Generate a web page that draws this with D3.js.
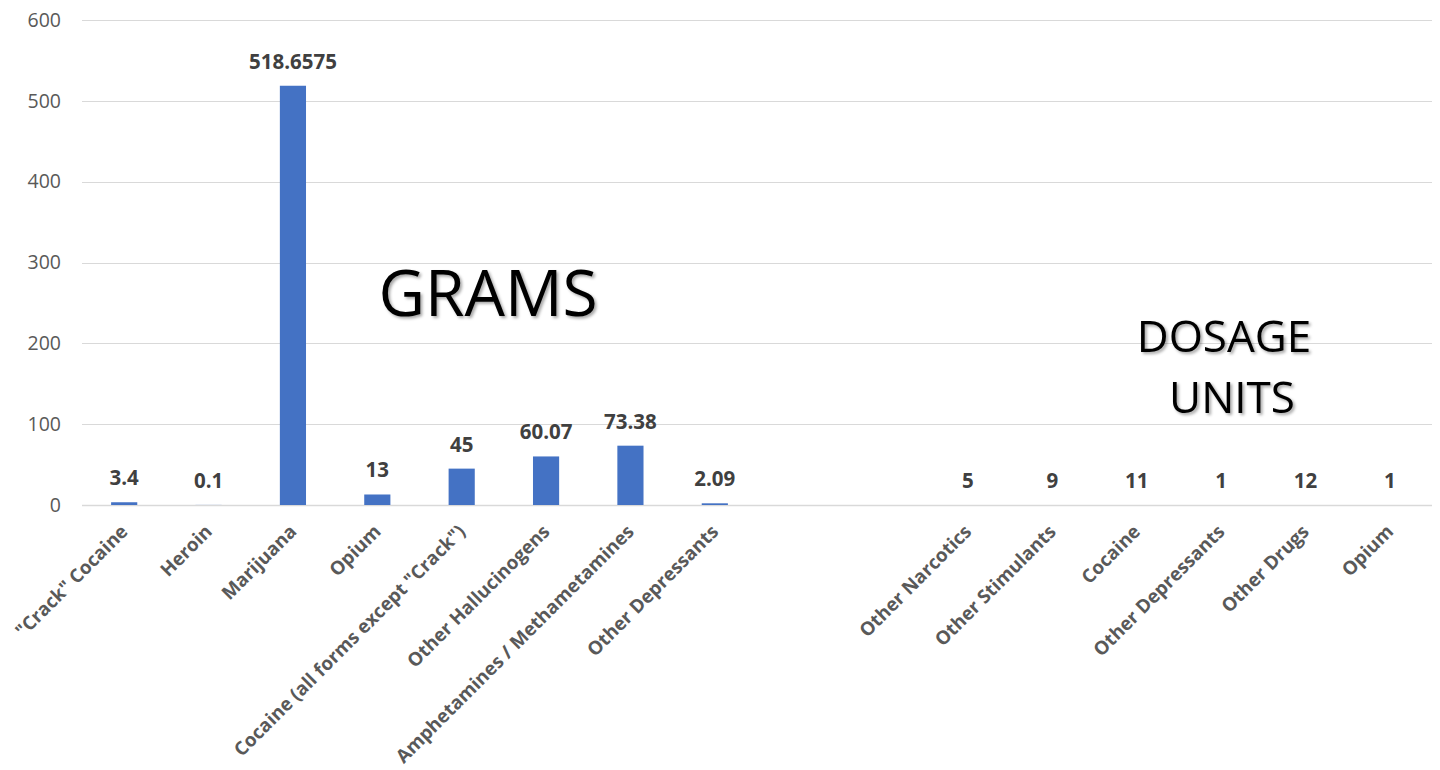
<!DOCTYPE html>
<html>
<head>
<meta charset="utf-8">
<script src="https://cdn.jsdelivr.net/npm/d3@7"></script>
<style>
  html, body { margin: 0; padding: 0; background: #ffffff; }
  svg { display: block; }
</style>
</head>
<body>
<svg id="chart" width="1440" height="770"></svg>
<script>
// ---- data ----
const categories = [
  '"Crack" Cocaine', 'Heroin', 'Marijuana', 'Opium',
  'Cocaine (all forms except "Crack")', 'Other Hallucinogens',
  'Amphetamines / Methametamines', 'Other Depressants',
  '', '',
  'Other Narcotics', 'Other Stimulants', 'Cocaine',
  'Other Depressants', 'Other Drugs', 'Opium'
];
const gramsValues = [3.4, 0.1, 518.6575, 13, 45, 60.07, 73.38, 2.09, null, null, null, null, null, null, null, null];
const dosageValues = [null, null, null, null, null, null, null, null, null, null, 5, 9, 11, 1, 12, 1];
const yTicks = [0, 100, 200, 300, 400, 500, 600];
const groupTitles = ["GRAMS", "DOSAGE", "UNITS"];

// ---- layout ----
const svg = d3.select("#chart");
const mLeft = 82, mRight = 1432, mTop = 20, mBottom = 505;
const idx = d3.range(categories.length);

const x = d3.scaleBand().domain(idx).range([mLeft, mRight]).paddingInner(0.69).paddingOuter(0.345);
const y = d3.scaleLinear().domain([0, 600]).range([mBottom, mTop]);

const defs = svg.append("defs");
const f = defs.append("filter").attr("id", "shadow").attr("x", "-10%").attr("y", "-10%").attr("width", "130%").attr("height", "140%");
f.append("feDropShadow").attr("dx", 2).attr("dy", 2).attr("stdDeviation", 1.5).attr("flood-color", "#000").attr("flood-opacity", 0.35);

// gridlines
svg.append("g").selectAll("line").data(yTicks).join("line")
  .attr("x1", mLeft).attr("x2", mRight)
  .attr("y1", d => Math.round(y(d)) + 0.5).attr("y2", d => Math.round(y(d)) + 0.5)
  .attr("stroke", "#d9d9d9").attr("stroke-width", d => d === 0 ? 1.5 : 1);

// y axis labels
const yAxis = d3.axisLeft(y).tickValues(yTicks).tickSize(0).tickPadding(0);
const ya = svg.append("g").attr("transform", `translate(${mLeft - 21},0)`).call(yAxis);
ya.select(".domain").remove();
ya.selectAll("text").attr("font-family", "Open Sans, sans-serif").attr("font-size", 19.5).attr("fill", "#595959");

// bars
const gramsData = idx.filter(i => gramsValues[i] != null);
svg.append("g").selectAll("rect").data(gramsData).join("rect")
  .attr("x", i => x(i)).attr("width", x.bandwidth())
  .attr("y", i => y(gramsValues[i])).attr("height", i => y(0) - y(gramsValues[i]))
  .attr("fill", "#4472c4");

// data labels
svg.append("g").selectAll("text").data(gramsData).join("text")
  .attr("x", i => x(i) + x.bandwidth() / 2)
  .attr("y", i => y(gramsValues[i]) - 17)
  .attr("text-anchor", "middle")
  .attr("font-family", "Open Sans, sans-serif").attr("font-weight", 700).attr("font-size", 20.5)
  .attr("fill", "#404040")
  .text(i => String(gramsValues[i]));

const dosageData = idx.filter(i => dosageValues[i] != null);
svg.append("g").selectAll("text").data(dosageData).join("text")
  .attr("x", i => x(i) + x.bandwidth() / 2)
  .attr("y", y(0) - 17)
  .attr("text-anchor", "middle")
  .attr("font-family", "Open Sans, sans-serif").attr("font-weight", 700).attr("font-size", 20.5)
  .attr("fill", "#404040")
  .text(i => String(dosageValues[i]));

// x axis labels
const xAxis = d3.axisBottom(x).tickSize(0).tickFormat(i => categories[i]);
const xa = svg.append("g").attr("transform", `translate(0,${mBottom})`).call(xAxis);
xa.select(".domain").remove();
xa.selectAll("text")
  .attr("font-family", "Open Sans, sans-serif").attr("font-weight", 700).attr("font-size", 18.8)
  .attr("fill", "#595959")
  .attr("text-anchor", "end")
  .attr("dy", "0.35em")
  .attr("transform", "translate(-2,21) rotate(-45)");

// group titles
svg.append("text").attr("x", 488).attr("y", 316).attr("text-anchor", "middle")
  .attr("font-family", "Open Sans, sans-serif").attr("font-size", 64).attr("fill", "#000")
  .attr("filter", "url(#shadow)").text(groupTitles[0]);
svg.append("text").attr("x", 1224).attr("y", 352).attr("text-anchor", "middle")
  .attr("font-family", "Open Sans, sans-serif").attr("font-size", 44).attr("fill", "#000")
  .attr("filter", "url(#shadow)").text(groupTitles[1]);
svg.append("text").attr("x", 1232).attr("y", 413).attr("text-anchor", "middle")
  .attr("font-family", "Open Sans, sans-serif").attr("font-size", 44).attr("fill", "#000")
  .attr("filter", "url(#shadow)").text(groupTitles[2]);
</script>
</body>
</html>
